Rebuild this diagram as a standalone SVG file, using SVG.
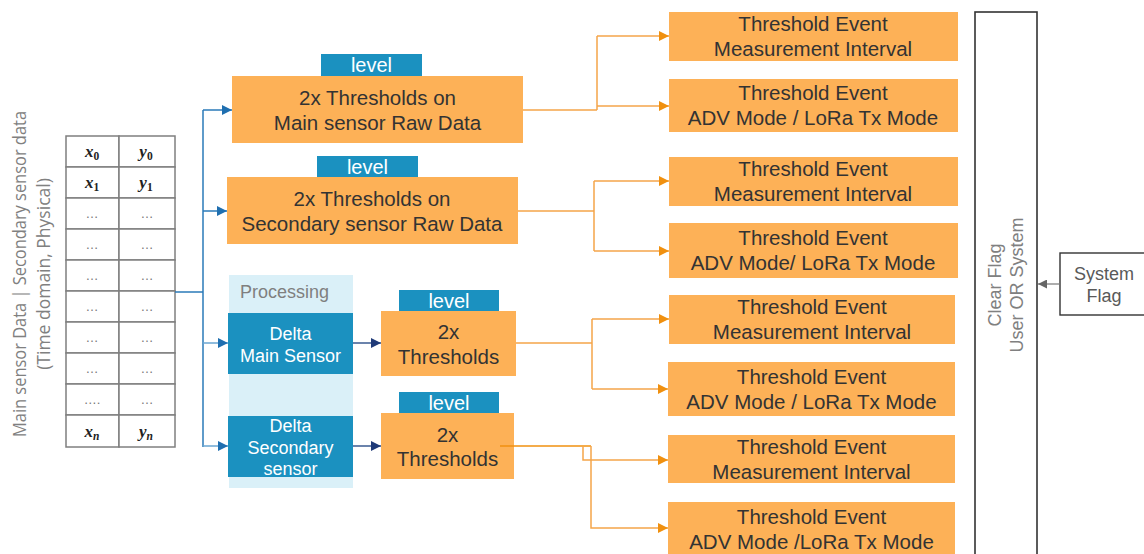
<svg xmlns="http://www.w3.org/2000/svg" width="1144" height="554" viewBox="0 0 1144 554">
<defs>
<style>
.ob{fill:#fdb157;}
.bt{fill:#1b91c0;}
.t{font-family:"Liberation Sans",Arial,sans-serif;fill:#333333;text-anchor:middle;}
.big{font-size:20.5px;}
.lv{font-size:20px;fill:#ffffff;}
.wt{font-size:18px;fill:#ffffff;}
.gr{font-family:"Open Sans","Liberation Sans",sans-serif;fill:#808080;text-anchor:middle;font-size:17.5px;}
.gs{font-family:"Liberation Sans",Arial,sans-serif;fill:#808080;text-anchor:middle;font-size:18px;}
.cell{fill:#ffffff;stroke:#7f7f7f;stroke-width:1.5;}
.mth{font-family:"Liberation Serif","DejaVu Serif",serif;font-weight:bold;font-style:italic;font-size:17px;fill:#222;text-anchor:middle;}
.dots{font-family:"Liberation Sans",sans-serif;font-size:13px;fill:#777;text-anchor:middle;}
.bl{fill:none;stroke:#2a7ab8;stroke-width:1.5;}
.nv{fill:none;stroke:#3a5a90;stroke-width:1.5;}
.ol{fill:none;stroke:#f5a54a;stroke-width:1.5;}
.gl{fill:none;stroke:#777;stroke-width:1.2;}
</style>
<marker id="ab" viewBox="0 0 10 10" refX="10" refY="5" markerWidth="10" markerHeight="10" markerUnits="userSpaceOnUse" orient="auto"><path d="M0,0 L10,5 L0,10 z" fill="#1f6fb0"/></marker>
<marker id="an" viewBox="0 0 10 10" refX="10" refY="5" markerWidth="10" markerHeight="10" markerUnits="userSpaceOnUse" orient="auto"><path d="M0,0 L10,5 L0,10 z" fill="#1f3a78"/></marker>
<marker id="ao" viewBox="0 0 10 10" refX="10" refY="5" markerWidth="10" markerHeight="10" markerUnits="userSpaceOnUse" orient="auto"><path d="M0,0 L10,5 L0,10 z" fill="#f0900f"/></marker>
<marker id="ag" viewBox="0 0 10 10" refX="10" refY="5" markerWidth="9" markerHeight="9" markerUnits="userSpaceOnUse" orient="auto"><path d="M0,0 L10,5 L0,10 z" fill="#666"/></marker>
</defs>
<rect width="1144" height="554" fill="#ffffff"/>

<g id="input-label">
<text class="gr" transform="translate(26,274) rotate(-90)" textLength="326" lengthAdjust="spacingAndGlyphs">Main sensor Data | Secondary sensor data</text>
<text class="gr" transform="translate(50,274) rotate(-90)">(Time domain, Physical)</text>
</g>

<g id="data-table">
<rect class="cell" x="66" y="136" width="53" height="31"/><rect class="cell" x="119" y="136" width="56" height="31"/>
<rect class="cell" x="66" y="167" width="53" height="31"/><rect class="cell" x="119" y="167" width="56" height="31"/>
<rect class="cell" x="66" y="198" width="53" height="31"/><rect class="cell" x="119" y="198" width="56" height="31"/>
<rect class="cell" x="66" y="229" width="53" height="31"/><rect class="cell" x="119" y="229" width="56" height="31"/>
<rect class="cell" x="66" y="260" width="53" height="31"/><rect class="cell" x="119" y="260" width="56" height="31"/>
<rect class="cell" x="66" y="291" width="53" height="31"/><rect class="cell" x="119" y="291" width="56" height="31"/>
<rect class="cell" x="66" y="322" width="53" height="31"/><rect class="cell" x="119" y="322" width="56" height="31"/>
<rect class="cell" x="66" y="353" width="53" height="31"/><rect class="cell" x="119" y="353" width="56" height="31"/>
<rect class="cell" x="66" y="384" width="53" height="31"/><rect class="cell" x="119" y="384" width="56" height="31"/>
<rect class="cell" x="66" y="415" width="53" height="32"/><rect class="cell" x="119" y="415" width="56" height="32"/>
<text class="mth" x="92" y="157">x<tspan font-size="11.5" dy="3" font-style="normal">0</tspan></text>
<text class="mth" x="146" y="157">y<tspan font-size="11.5" dy="3" font-style="normal">0</tspan></text>
<text class="mth" x="92" y="188">x<tspan font-size="11.5" dy="3" font-style="normal">1</tspan></text>
<text class="mth" x="146" y="188">y<tspan font-size="11.5" dy="3" font-style="normal">1</tspan></text>
<text class="dots" x="92" y="218">…</text><text class="dots" x="147" y="218">…</text>
<text class="dots" x="92" y="249">…</text><text class="dots" x="147" y="249">…</text>
<text class="dots" x="92" y="280">…</text><text class="dots" x="147" y="280">…</text>
<text class="dots" x="92" y="311">…</text><text class="dots" x="147" y="311">…</text>
<text class="dots" x="92" y="342">…</text><text class="dots" x="147" y="342">…</text>
<text class="dots" x="92" y="373">…</text><text class="dots" x="147" y="373">…</text>
<text class="dots" x="92" y="404">….</text><text class="dots" x="147" y="404">…</text>
<text class="mth" x="92" y="437">x<tspan font-size="11.5" dy="3">n</tspan></text>
<text class="mth" x="146" y="437">y<tspan font-size="11.5" dy="3">n</tspan></text>
</g>

<g id="processing-panel">
<rect x="229" y="275" width="124" height="213" fill="#daf0f8"/>
<text class="gs" x="240" y="298" style="text-anchor:start;font-size:18px;fill:#7f7f7f">Processing</text>
</g>

<g id="thr-main">
<rect class="bt" x="321" y="54" width="101" height="22"/>
<text class="t lv" x="371.5" y="72">level</text>
<rect class="ob" x="232" y="76" width="291" height="67"/>
<text class="t big" x="377.5" y="105">2x Thresholds on</text>
<text class="t big" x="377.5" y="130">Main sensor Raw Data</text>
</g>

<g id="thr-secondary">
<rect class="bt" x="317" y="156" width="101" height="21"/>
<text class="t lv" x="367.5" y="174">level</text>
<rect class="ob" x="227" y="177" width="291" height="67"/>
<text class="t big" x="372" y="206">2x Thresholds on</text>
<text class="t big" x="372" y="231">Secondary sensor Raw Data</text>
</g>

<g id="delta-main">
<rect class="bt" x="228" y="313" width="125" height="61"/>
<text class="t wt" x="290.5" y="339.5">Delta</text>
<text class="t wt" x="290.5" y="362">Main Sensor</text>
</g>

<g id="delta-secondary">
<rect class="bt" x="228" y="416" width="125" height="61"/>
<text class="t wt" x="290.5" y="431.5">Delta</text>
<text class="t wt" x="290.5" y="454">Secondary</text>
<text class="t wt" x="290.5" y="474.5">sensor</text>
</g>

<g id="thr-delta-main">
<rect class="bt" x="399" y="290" width="100" height="21"/>
<text class="t lv" x="449" y="307.5">level</text>
<rect class="ob" x="381" y="311" width="135" height="65"/>
<text class="t big" x="448.5" y="339">2x</text>
<text class="t big" x="448.5" y="364">Thresholds</text>
</g>

<g id="thr-delta-secondary">
<rect class="bt" x="399" y="392" width="100" height="21"/>
<text class="t lv" x="449" y="409.5">level</text>
<rect class="ob" x="381" y="413" width="133" height="66"/>
<text class="t big" x="447.5" y="442">2x</text>
<text class="t big" x="447.5" y="466">Thresholds</text>
</g>

<g id="ev-a"><rect class="ob" x="669" y="12" width="289" height="49"/>
<text class="t big" x="813" y="31">Threshold Event</text><text class="t big" x="813" y="56">Measurement Interval</text></g>
<g id="ev-b"><rect class="ob" x="669" y="79" width="289" height="53"/>
<text class="t big" x="813" y="100">Threshold Event</text><text class="t big" x="813" y="125">ADV Mode / LoRa Tx Mode</text></g>
<g id="ev-c"><rect class="ob" x="669" y="157" width="289" height="49"/>
<text class="t big" x="813" y="176">Threshold Event</text><text class="t big" x="813" y="201">Measurement Interval</text></g>
<g id="ev-d"><rect class="ob" x="669" y="223" width="289" height="55"/>
<text class="t big" x="813" y="245">Threshold Event</text><text class="t big" x="813" y="270">ADV Mode/ LoRa Tx Mode</text></g>
<g id="ev-e"><rect class="ob" x="669" y="295" width="286" height="49"/>
<text class="t big" x="812" y="314">Threshold Event</text><text class="t big" x="812" y="339">Measurement Interval</text></g>
<g id="ev-f"><rect class="ob" x="668" y="362" width="287" height="54"/>
<text class="t big" x="811.5" y="384">Threshold Event</text><text class="t big" x="811.5" y="409">ADV Mode / LoRa Tx Mode</text></g>
<g id="ev-g"><rect class="ob" x="668" y="435" width="287" height="48"/>
<text class="t big" x="811.5" y="454">Threshold Event</text><text class="t big" x="811.5" y="479">Measurement Interval</text></g>
<g id="ev-h"><rect class="ob" x="668" y="502" width="287" height="56"/>
<text class="t big" x="811.5" y="524">Threshold Event</text><text class="t big" x="811.5" y="549">ADV Mode /LoRa Tx Mode</text></g>

<g id="clear-flag">
<rect x="975" y="12" width="62" height="550" fill="#ffffff" stroke="#333" stroke-width="1.6"/>
<text class="gs" transform="translate(1001,285) rotate(-90)">Clear Flag</text>
<text class="gs" transform="translate(1023,285) rotate(-90)">User OR System</text>
</g>

<g id="system-flag">
<rect x="1060" y="253" width="90" height="62" fill="#ffffff" stroke="#333" stroke-width="1.4"/>
<text class="gs" x="1104" y="280" style="fill:#595959">System</text>
<text class="gs" x="1104" y="302" style="fill:#595959">Flag</text>
</g>

<g id="connectors">
<path class="bl" d="M175,292 H203"/>
<path class="bl" d="M203,110 V447"/>
<path class="bl" d="M203,110 H232" marker-end="url(#ab)"/>
<path class="bl" d="M203,211 H227" marker-end="url(#ab)"/>
<path class="bl" d="M203,343 H228" marker-end="url(#ab)" style="stroke:#6aa6d2"/>
<path class="bl" d="M203,446 H228" marker-end="url(#ab)" style="stroke:#6aa6d2"/>
<path class="nv" d="M353,343 H381" marker-end="url(#an)"/>
<path class="nv" d="M353,446 H381" marker-end="url(#an)"/>
<path class="ol" d="M523,110 H597 M597,36 V110"/>
<path class="ol" d="M597,36 H669" marker-end="url(#ao)"/>
<path class="ol" d="M597,106 H669" marker-end="url(#ao)"/>
<path class="ol" d="M518,211 H594 M594,181 V251"/>
<path class="ol" d="M594,181 H669" marker-end="url(#ao)"/>
<path class="ol" d="M594,251 H669" marker-end="url(#ao)"/>
<path class="ol" d="M516,343 H592 M592,319 V389"/>
<path class="ol" d="M592,319 H669" marker-end="url(#ao)"/>
<path class="ol" d="M592,389 H668" marker-end="url(#ao)"/>
<path class="ol" d="M500,446 H591" style="stroke:#f0900f"/>
<path class="ol" d="M583,446 V460 H668" marker-end="url(#ao)"/>
<path class="ol" d="M591,446 V528 H668" marker-end="url(#ao)"/>
<path class="gl" d="M1060,284 H1038" marker-end="url(#ag)"/>
</g>
</svg>
